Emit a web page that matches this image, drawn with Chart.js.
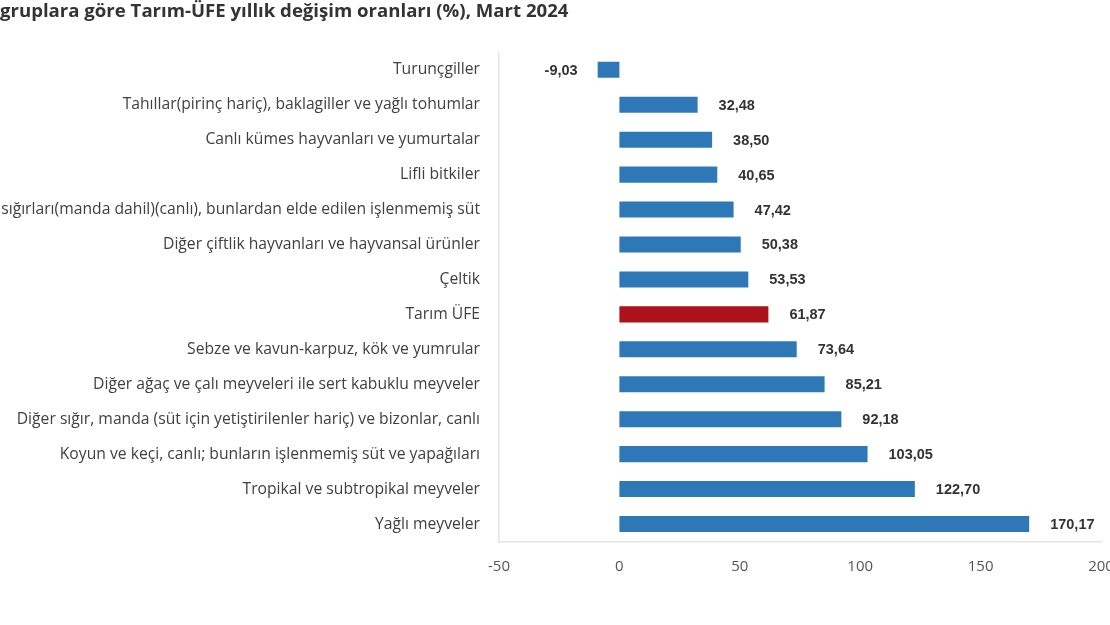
<!DOCTYPE html>
<html>
<head>
<meta charset="utf-8">
<script src="https://cdn.jsdelivr.net/npm/chart.js@4.4.1/dist/chart.umd.min.js"></script>
<style>
html,body{margin:0;padding:0;background:#fff;overflow:hidden;width:1110px;height:625px;}
#wrap{position:absolute;left:0;top:0;width:1130px;height:625px;}
</style>
</head>
<body>
<div id="wrap"><canvas id="c"></canvas></div>
<script>
const titleText = "gruplara göre Tarım-ÜFE yıllık değişim oranları (%), Mart 2024";
const categories = [
  "Turunçgiller",
  "Tahıllar(pirinç hariç), baklagiller ve yağlı tohumlar",
  "Canlı kümes hayvanları ve yumurtalar",
  "Lifli bitkiler",
  "sığırları(manda dahil)(canlı), bunlardan elde edilen işlenmemiş süt",
  "Diğer çiftlik hayvanları ve hayvansal ürünler",
  "Çeltik",
  "Tarım ÜFE",
  "Sebze ve kavun-karpuz, kök ve yumrular",
  "Diğer ağaç ve çalı meyveleri ile sert kabuklu meyveler",
  "Diğer sığır, manda (süt için yetiştirilenler hariç) ve bizonlar, canlı",
  "Koyun ve keçi, canlı; bunların işlenmemiş süt ve yapağıları",
  "Tropikal ve subtropikal meyveler",
  "Yağlı meyveler"
];
const values = [-9.03, 32.48, 38.50, 40.65, 47.42, 50.38, 53.53, 61.87, 73.64, 85.21, 92.18, 103.05, 122.70, 170.17];
const highlight = "Tarım ÜFE";
const xTicks = [-50, 0, 50, 100, 150, 200];

const BLUE = "#2E78B8";
const RED = "#AB121A";

const valueLabels = {
  id: "valueLabels",
  afterDatasetsDraw(chart) {
    const ctx = chart.ctx;
    const meta = chart.getDatasetMeta(0);
    ctx.save();
    ctx.font = "bold 14.5px 'Liberation Sans', Arial, sans-serif";
    ctx.fillStyle = "#333333";
    ctx.textBaseline = "middle";
    meta.data.forEach((bar, i) => {
      const v = values[i];
      const txt = v.toFixed(2).replace(".", ",");
      if (v >= 0) {
        ctx.textAlign = "left";
        ctx.fillText(txt, bar.x + 21, bar.y + 1);
      } else {
        ctx.textAlign = "right";
        ctx.fillText(txt, bar.x - 20, bar.y + 1);
      }
    });
    ctx.restore();
  }
};

new Chart(document.getElementById("c"), {
  type: "bar",
  data: {
    labels: categories,
    datasets: [{
      data: values,
      backgroundColor: categories.map(c => c === highlight ? RED : BLUE),
      borderWidth: 0,
      barPercentage: 0.46,
      categoryPercentage: 1
    }]
  },
  options: {
    indexAxis: "y",
    responsive: true,
    maintainAspectRatio: false,
    animation: false,
    layout: { padding: { left: 0, right: 29, top: 0, bottom: 0 } },
    plugins: {
      legend: { display: false },
      tooltip: { enabled: false },
      title: {
        display: true,
        text: titleText,
        align: "start",
        color: "#333333",
        font: { family: "'Open Sans', sans-serif", size: 18.6, weight: "bold" },
        padding: { top: 1, bottom: 29 }
      }
    },
    scales: {
      x: {
        min: -50,
        max: 200,
        afterBuildTicks(scale) { scale.ticks = xTicks.map(v => ({ value: v })); },
        afterFit(scale) { scale.height = 83.5; },
        grid: { display: false, drawTicks: false },
        border: { display: true, color: "#e4e4e4", width: 1.5 },
        ticks: {
          padding: 16,
          color: "#555555",
          font: { family: "'Open Sans', sans-serif", size: 15 }
        }
      },
      y: {
        afterFit(scale) { scale.width = 499; },
        grid: { display: false, drawTicks: false },
        border: { display: true, color: "#e4e4e4", width: 1.5 },
        ticks: {
          padding: 19,
          color: "#404040",
          font: { family: "'Open Sans', sans-serif", size: 15.7, lineHeight: 1.0 },
          autoSkip: false
        }
      }
    }
  },
  plugins: [valueLabels]
});
</script>
</body>
</html>
